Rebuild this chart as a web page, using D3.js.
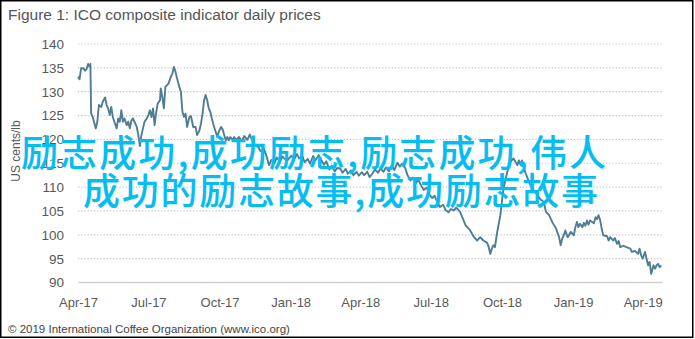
<!DOCTYPE html>
<html>
<head>
<meta charset="utf-8">
<script src="https://cdn.jsdelivr.net/npm/d3@7"></script>
<style>
  html, body { margin: 0; padding: 0; background: #fff; }
  svg { display: block; }
</style>
</head>
<body>
<div id="chart"></div>
<script>
// ── Datos ────────────────────────────────────────────────
const titleText = 'Figure 1: ICO composite indicator daily prices';
const yTitle = 'US cents/lb';
const sourceText = '\u00a9 2019 International Coffee Organization (www.ico.org)';
const overlayLines = ['励志成功,成功励志,励志成功,伟人', '成功的励志故事,成功励志故事'];

const yTicks = [90, 95, 100, 105, 110, 115, 120, 125, 130, 135, 140];
const xTickDates = ['2017-04-01', '2017-07-01', '2017-10-01', '2018-01-01', '2018-04-01',
                    '2018-07-01', '2018-10-01', '2019-01-01', '2019-04-01'];
const xDomain = ['2017-04-01', '2019-04-26'];

const dates = [
  '2017-04-01','2017-04-03','2017-04-05','2017-04-08','2017-04-10','2017-04-12','2017-04-14','2017-04-16','2017-04-17','2017-04-18',
  '2017-04-20','2017-04-24','2017-04-26','2017-04-28','2017-05-01','2017-05-03','2017-05-06','2017-05-08','2017-05-10','2017-05-12',
  '2017-05-14','2017-05-16','2017-05-18','2017-05-21','2017-05-23','2017-05-25','2017-05-27','2017-05-29','2017-05-31','2017-06-03',
  '2017-06-05','2017-06-07','2017-06-09','2017-06-11','2017-06-13','2017-06-16','2017-06-18','2017-06-20','2017-06-22','2017-06-24',
  '2017-06-26','2017-06-29','2017-07-01','2017-07-03','2017-07-05','2017-07-07','2017-07-09','2017-07-11','2017-07-13','2017-07-16',
  '2017-07-17','2017-07-19','2017-07-21','2017-07-23','2017-07-27','2017-07-30','2017-08-01','2017-08-03','2017-08-05','2017-08-07',
  '2017-08-10','2017-08-12','2017-08-14','2017-08-16','2017-08-18','2017-08-20','2017-08-23','2017-08-25','2017-08-28','2017-08-31',
  '2017-09-02','2017-09-05','2017-09-07','2017-09-09','2017-09-11','2017-09-13','2017-09-15','2017-09-17','2017-09-19','2017-09-21',
  '2017-09-24','2017-09-26','2017-09-28','2017-09-30','2017-10-03','2017-10-05','2017-10-07','2017-10-09','2017-10-11','2017-10-13',
  '2017-10-15','2017-10-18','2017-10-20','2017-10-22','2017-10-26','2017-10-30','2017-11-02','2017-11-06','2017-11-09','2017-11-13',
  '2017-11-16','2017-11-20','2017-11-23','2017-11-27','2017-11-30','2017-12-04','2017-12-07','2017-12-11','2017-12-14','2017-12-18',
  '2017-12-21','2017-12-27','2018-01-02','2018-01-05','2018-01-09','2018-01-12','2018-01-16','2018-01-19','2018-01-23','2018-01-26',
  '2018-01-30','2018-02-02','2018-02-06','2018-02-09','2018-02-13','2018-02-16','2018-02-20','2018-02-23','2018-02-27','2018-03-02',
  '2018-03-06','2018-03-09','2018-03-13','2018-03-16','2018-03-20','2018-03-23','2018-03-27','2018-03-30','2018-04-03','2018-04-06',
  '2018-04-10','2018-04-13','2018-04-17','2018-04-20','2018-04-24','2018-04-27','2018-05-01','2018-05-04','2018-05-08','2018-05-11',
  '2018-05-15','2018-05-19','2018-05-22','2018-05-25','2018-05-29','2018-06-01','2018-06-05','2018-06-08','2018-06-12','2018-06-15',
  '2018-06-19','2018-06-22','2018-06-26','2018-06-29','2018-07-03','2018-07-06','2018-07-10','2018-07-13','2018-07-17','2018-07-20',
  '2018-07-24','2018-07-27','2018-07-31','2018-08-03','2018-08-08','2018-08-15','2018-08-21','2018-08-26','2018-08-30','2018-09-03',
  '2018-09-07','2018-09-12','2018-09-14','2018-09-16','2018-09-18','2018-09-20','2018-09-22','2018-09-25','2018-09-29','2018-10-01',
  '2018-10-03','2018-10-08','2018-10-12','2018-10-16','2018-10-21','2018-10-23','2018-10-25','2018-10-27','2018-10-29','2018-11-01',
  '2018-11-05','2018-11-09','2018-11-16','2018-11-20','2018-11-24','2018-11-27','2018-12-01','2018-12-05','2018-12-10','2018-12-14',
  '2018-12-16','2018-12-18','2018-12-20','2018-12-22','2018-12-25','2018-12-29','2019-01-02','2019-01-04','2019-01-06','2019-01-08',
  '2019-01-10','2019-01-13','2019-01-15','2019-01-17','2019-01-19','2019-01-21','2019-01-23','2019-01-28','2019-01-30','2019-02-01',
  '2019-02-03','2019-02-05','2019-02-07','2019-02-09','2019-02-14','2019-02-16','2019-02-18','2019-02-22','2019-02-24','2019-02-27',
  '2019-03-01','2019-03-03','2019-03-07','2019-03-11','2019-03-16','2019-03-18','2019-03-22','2019-03-26','2019-03-28','2019-03-30',
  '2019-04-01','2019-04-04','2019-04-06','2019-04-08','2019-04-10','2019-04-12','2019-04-15','2019-04-17','2019-04-19','2019-04-21',
  '2019-04-23','2019-04-25'
];

const prices = [
  133.0,132.5,134.8,134.8,134.3,134.6,135.7,135.2,135.7,125.3,
  124.6,122.2,123.6,127.1,126.7,127.8,128.7,127.1,126.4,125.0,
  126.7,124.6,123.6,122.2,124.3,123.6,126.0,123.6,124.3,122.9,
  123.6,122.2,123.8,124.3,123.6,122.5,120.8,118.5,120.8,122.2,
  123.6,124.3,125.0,126.0,124.6,126.4,122.9,125.5,127.4,128.1,
  130.6,128.8,126.4,130.9,131.6,133.0,133.7,135.1,134.1,132.7,
  130.9,129.9,125.7,124.6,125.3,122.5,124.6,124.8,122.5,122.5,
  120.8,121.8,123.2,125.3,128.1,129.2,128.1,126.4,125.7,124.3,
  122.5,121.5,120.4,121.5,122.5,122.0,120.8,119.7,120.4,119.7,
  120.4,119.7,120.4,119.7,120.4,119.6,120.6,119.8,120.9,119.4,
  118.6,118.3,117.4,117.9,116.8,114.5,115.6,114.9,116.1,115.2,
  116.3,115.4,116.5,115.6,116.8,115.9,116.4,115.1,115.8,114.8,
  116.4,115.5,116.6,115.7,114.6,115.3,113.6,114.4,113.2,113.9,
  113.8,112.9,113.7,112.7,113.4,112.4,113.1,112.3,113.0,112.4,
  113.1,112.0,112.8,113.6,112.9,113.8,113.1,114.0,113.2,114.3,
  113.5,115.0,114.2,114.8,113.9,112.4,111.3,111.9,110.8,111.4,
  110.1,109.3,109.8,108.4,107.6,108.1,106.5,105.7,106.2,105.1,
  104.6,105.3,105.0,105.6,104.7,101.9,100.8,99.4,98.7,99.4,
  98.7,98.2,97.3,95.9,97.0,97.7,97.3,100.5,104.0,106.8,
  109.6,113.1,115.2,115.9,114.5,115.5,114.6,115.5,114.1,112.7,
  111.0,109.6,108.2,107.3,106.8,104.7,104.0,102.6,101.2,99.4,
  97.7,99.1,99.8,100.8,99.4,100.5,99.8,101.5,102.6,101.5,
  102.2,101.5,102.4,101.8,102.9,102.0,102.9,102.3,103.6,103.2,
  104.0,103.0,101.2,99.8,99.6,98.7,99.4,98.7,99.2,98.0,
  98.6,97.3,97.6,97.3,97.0,96.3,96.5,95.9,97.0,95.6,
  94.9,96.3,94.9,93.5,94.2,91.7,93.5,92.8,93.5,93.8,
  93.1,93.5
];

// ── Dimensiones ─────────────────────────────────────────
const W = 695, H = 339;
const plot = { left: 78, right: 662, top: 43.5, bottom: 282 };

const parse = d3.timeParse('%Y-%m-%d');
const series = dates.map((d, i) => ({ date: parse(d), value: prices[i] }));

const x = d3.scaleTime()
    .domain(xDomain.map(parse))
    .range([plot.left, plot.right]);

const y = d3.scaleLinear()
    .domain([90, 140])
    .range([plot.bottom, plot.top]);

const svg = d3.select('#chart').append('svg')
    .attr('width', W)
    .attr('height', H)
    .style('font-family', '"Liberation Sans", Arial, sans-serif');

svg.append('rect')
    .attr('width', W).attr('height', H)
    .attr('fill', '#fff');

// Marco negro
svg.append('rect')
    .attr('x', 0.75).attr('y', 0.75)
    .attr('width', 692).attr('height', 336.5)
    .attr('fill', 'none')
    .attr('stroke', '#000')
    .attr('stroke-width', 1.5);

// Título
svg.append('text')
    .attr('x', 8).attr('y', 20)
    .attr('fill', '#555')
    .style('font-size', '15.5px')
    .text(titleText);

// ── Rejilla punteada ────────────────────────────────────
const grid = svg.append('g')
    .attr('transform', `translate(${plot.left},0)`)
    .call(d3.axisLeft(y)
        .tickValues(yTicks.filter(v => v > 90))
        .tickSize(-(plot.right - plot.left))
        .tickFormat(''));
grid.select('.domain').remove();
grid.selectAll('.tick line')
    .attr('stroke', '#c4c4c4')
    .attr('stroke-width', 1.2)
    .attr('stroke-dasharray', '1.2,2');

// ── Eje Y ───────────────────────────────────────────────
const yAxis = svg.append('g')
    .attr('transform', `translate(64,0)`)
    .call(d3.axisLeft(y).tickValues(yTicks).tickSize(0).tickPadding(0));
yAxis.select('.domain').remove();
yAxis.selectAll('text')
    .attr('fill', '#595959')
    .attr('dy', '0.36em')
    .style('font-size', '13.5px')
    .style('font-family', '"Liberation Sans", Arial, sans-serif');

svg.append('text')
    .attr('transform', `translate(20,151) rotate(-90)`)
    .attr('text-anchor', 'middle')
    .attr('fill', '#595959')
    .style('font-size', '12px')
    .text(yTitle);

// ── Eje X ───────────────────────────────────────────────
const xAxis = svg.append('g')
    .attr('transform', `translate(0,${plot.bottom})`)
    .call(d3.axisBottom(x)
        .tickValues(xTickDates.map(parse))
        .tickFormat(d3.timeFormat('%b-%y'))
        .tickSize(0)
        .tickPadding(16));
xAxis.select('.domain')
    .attr('stroke', '#d0d0d0')
    .attr('stroke-width', 1.3);
xAxis.selectAll('text')
    .attr('fill', '#595959')
    .style('font-size', '13px')
    .style('font-family', '"Liberation Sans", Arial, sans-serif');

// ── Serie ───────────────────────────────────────────────
const line = d3.line()
    .x(d => x(d.date))
    .y(d => y(d.value));

svg.append('path')
    .datum(series)
    .attr('d', line)
    .attr('fill', 'none')
    .attr('stroke', '#4f7d93')
    .attr('stroke-width', 1.9)
    .attr('stroke-linejoin', 'round');

// Fuente
svg.append('text')
    .attr('x', 8).attr('y', 333)
    .attr('fill', '#444')
    .style('font-size', '11.5px')
    .text(sourceText);

// ── Texto superpuesto ───────────────────────────────────
const overlay = svg.append('g')
    .style('font-family', '"Noto Sans CJK SC", sans-serif')
    .style('font-size', '37px')
    .style('font-weight', 500)
    .attr('fill', '#06bdf2');

overlay.append('text')
    .attr('x', 21).attr('y', 167)
    .attr('textLength', 585)
    .attr('lengthAdjust', 'spacing')
    .text(overlayLines[0]);

overlay.append('text')
    .attr('x', 83).attr('y', 205)
    .attr('textLength', 515)
    .attr('lengthAdjust', 'spacing')
    .text(overlayLines[1]);
</script>
</body>
</html>
